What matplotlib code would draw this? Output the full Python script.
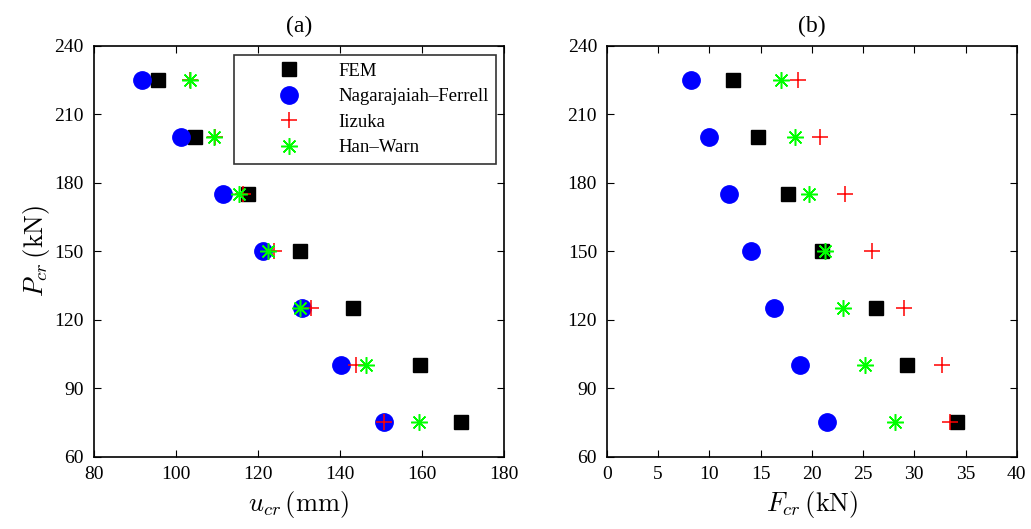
import matplotlib
matplotlib.use("Agg")
import matplotlib.pyplot as plt

plt.rcParams['font.family'] = ['Liberation Serif', 'DejaVu Serif']
plt.rcParams['mathtext.fontset'] = 'cm'

P_cr = [225, 200, 175, 150, 125, 100, 75]

# panel (a): u_cr (mm)
u_fem = [95.7, 104.8, 117.6, 130.4, 143.3, 159.6, 169.6]
u_nf = [91.7, 101.3, 111.5, 121.2, 130.7, 140.4, 150.7]
u_iiz = [103.4, 109.6, 116.4, 124.0, 133.0, 144.0, 150.7]
u_hw = [103.4, 109.4, 115.4, 122.5, 130.4, 146.4, 159.3]

# panel (b): F_cr (kN)
f_fem = [12.3, 14.8, 17.7, 21.0, 26.3, 29.3, 34.2]
f_nf = [8.2, 9.96, 11.9, 14.1, 16.3, 18.85, 21.5]
f_iiz = [18.7, 20.8, 23.2, 25.85, 29.0, 32.7, 33.5]
f_hw = [17.0, 18.4, 19.7, 21.3, 23.05, 25.2, 28.1]

labels = ['FEM', 'Nagarajaiah\u2013Ferrell', 'Iizuka', 'Han\u2013Warn']
star = (8, 2, 0)


def draw(ax, xs):
    fem, nf, iiz, hw = xs
    ax.plot(fem, P_cr, 's', color='k', ms=10, mec='k', label=labels[0])
    ax.plot(nf, P_cr, 'o', color='b', ms=12.5, mec='b', label=labels[1])
    ax.plot(iiz, P_cr, '+', color='r', ms=12, mew=1.1, label=labels[2])
    ax.plot(hw, P_cr, ls='none', marker=star, color=(0, 1, 0), ms=12, mew=1.1, label=labels[3])
    ax.set_ylim(60, 240)
    ax.set_yticks(range(60, 241, 30))
    ax.tick_params(direction='in', top=True, right=True, length=5, width=0.8,
                   labelsize=14, pad=7)
    for s in ax.spines.values():
        s.set_linewidth(1.2)


fig = plt.figure(figsize=(10.31, 5.29), dpi=100)
ax1 = fig.add_axes([0.0907, 0.1367, 0.3979, 0.777])
ax2 = fig.add_axes([0.5885, 0.1367, 0.3977, 0.777])

draw(ax1, (u_fem, u_nf, u_iiz, u_hw))
ax1.set_xlim(80, 180)
ax1.set_xticks(range(80, 181, 20))
ax1.set_title('(a)', fontsize=17, pad=10)
ax1.set_xlabel(r'$u_{cr}\,(\mathrm{mm})$', fontsize=19, labelpad=4)
ax1.set_ylabel(r'$P_{cr}\,(\mathrm{kN})$', fontsize=19, labelpad=2)
leg = ax1.legend(loc='upper right', bbox_to_anchor=(0.982, 0.977), fontsize=13.5,
                 frameon=True, fancybox=False, edgecolor='k', borderpad=0.4,
                 handlelength=5.0, handletextpad=0.15, labelspacing=0.45,
                 borderaxespad=0)
leg.get_frame().set_linewidth(1.2)

draw(ax2, (f_fem, f_nf, f_iiz, f_hw))
ax2.set_xlim(0, 40)
ax2.set_xticks(range(0, 41, 5))
ax2.set_title('(b)', fontsize=17, pad=10)
ax2.set_xlabel(r'$F_{cr}\,(\mathrm{kN})$', fontsize=19, labelpad=4)

fig.savefig('out.png', dpi=100)
